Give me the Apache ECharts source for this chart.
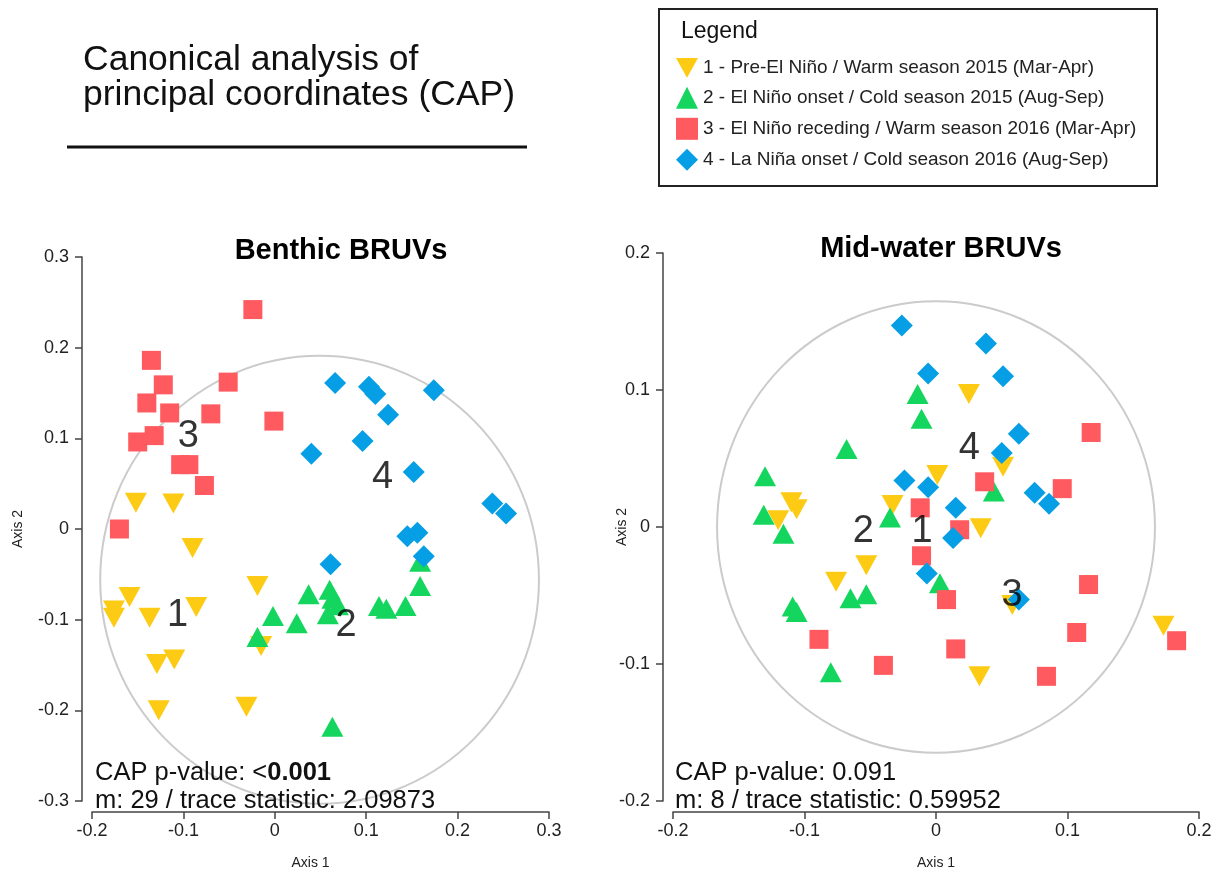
<!DOCTYPE html>
<html>
<head>
<meta charset="utf-8">
<script src="https://cdn.jsdelivr.net/npm/echarts@6/dist/echarts.min.js"></script>
<style>
html, body { margin: 0; padding: 0; background: #fff; }
#chart { width: 1220px; height: 875px; }
</style>
</head>
<body>
<div id="chart"></div>
<script>
// Group names (legend order)
const groupNames = [
  '1 - Pre-El Niño / Warm season 2015 (Mar-Apr)',
  '2 - El Niño onset / Cold season 2015 (Aug-Sep)',
  '3 - El Niño receding / Warm season 2016 (Mar-Apr)',
  '4 - La Niña onset / Cold season 2016 (Aug-Sep)'
];
const groupColors = ['#FDCA14', '#14D65F', '#FF5A5F', '#069FE6'];

// Benthic BRUVs: CAP scores [Axis 1, Axis 2]
const benthicPreNino = [
  [-0.152, 0.029], [-0.111, 0.028], [-0.090, -0.021], [-0.019, -0.063], [-0.159, -0.075],
  [-0.176, -0.090], [-0.176, -0.098], [-0.137, -0.098], [-0.086, -0.086], [-0.015, -0.129],
  [-0.129, -0.149], [-0.110, -0.144], [-0.127, -0.200], [-0.031, -0.196]
];
const benthicNinoOnset = [
  [-0.019, -0.119], [-0.002, -0.096], [0.024, -0.104], [0.037, -0.072], [0.060, -0.067],
  [0.063, -0.077], [0.069, -0.084], [0.058, -0.094], [0.114, -0.085], [0.122, -0.088],
  [0.143, -0.085], [0.159, -0.063], [0.159, -0.036], [0.063, -0.218]
];
const benthicNinoReceding = [
  [-0.024, 0.242], [-0.135, 0.186], [-0.122, 0.159], [-0.051, 0.162], [-0.140, 0.139],
  [-0.115, 0.128], [-0.070, 0.127], [-0.001, 0.119], [-0.132, 0.103], [-0.150, 0.096],
  [-0.103, 0.071], [-0.094, 0.071], [-0.077, 0.048], [-0.170, 0.000]
];
const benthicNinaOnset = [
  [0.066, 0.161], [0.103, 0.157], [0.110, 0.149], [0.174, 0.153], [0.124, 0.126],
  [0.096, 0.097], [0.040, 0.083], [0.152, 0.063], [0.238, 0.028], [0.253, 0.017],
  [0.145, -0.008], [0.156, -0.004], [0.163, -0.030], [0.061, -0.039]
];
// group label positions [Axis 1, Axis 2, label]
const benthicGroupLabels = [
  [-0.1065, -0.095, '1'], [0.078, -0.107, '2'], [-0.0945, 0.1025, '3'], [0.118, 0.057, '4']
];
// correlation ring [centre x, centre y, radius x, radius y]
const benthicRing = [0.049, -0.056, 0.240, 0.247];

// Mid-water BRUVs: CAP scores [Axis 1, Axis 2]
const midPreNino = [
  [-0.110, 0.018], [-0.106, 0.013], [-0.120, 0.005], [-0.033, 0.016], [0.025, 0.097],
  [0.051, 0.044], [0.001, 0.038], [0.034, -0.001], [0.058, -0.057], [0.173, -0.072],
  [0.033, -0.109], [-0.053, -0.028], [-0.076, -0.040]
];
const midNinoOnset = [
  [-0.130, 0.037], [-0.068, 0.057], [-0.131, 0.009], [-0.116, -0.005], [-0.035, 0.007],
  [-0.014, 0.097], [-0.011, 0.079], [0.044, 0.026], [0.003, -0.041], [-0.065, -0.052],
  [-0.053, -0.049], [-0.109, -0.058], [-0.106, -0.062], [-0.080, -0.106]
];
const midNinoReceding = [
  [0.118, 0.069], [0.037, 0.033], [0.096, 0.028], [-0.012, 0.014], [0.018, -0.002],
  [-0.011, -0.021], [0.008, -0.053], [0.116, -0.042], [0.107, -0.077], [0.183, -0.083],
  [0.015, -0.089], [0.084, -0.109], [-0.089, -0.082], [-0.040, -0.101]
];
const midNinaOnset = [
  [-0.026, 0.147], [0.038, 0.134], [-0.006, 0.112], [0.051, 0.110], [0.063, 0.068],
  [0.050, 0.054], [-0.024, 0.034], [-0.006, 0.029], [0.075, 0.025], [0.086, 0.017],
  [0.015, 0.014], [0.013, -0.008], [-0.007, -0.034], [0.063, -0.053]
];
const midGroupLabels = [
  [-0.0106, -0.003, '1'], [-0.0553, -0.003, '2'], [0.0578, -0.0498, '3'], [0.0253, 0.057, '4']
];
const midRing = [0.0, 0.0, 0.1665, 0.1648];

// Axis ranges and tick step
const benthicX = [-0.2, 0.3];
const benthicY = [-0.3, 0.3];
const midX = [-0.2, 0.2];
const midY = [-0.2, 0.2];
const tickStep = 0.1;

// CAP statistics
const benthicStats = { p: '0.001', pPrefix: '<', pBold: true, m: 29, trace: '2.09873' };
const midStats = { p: '0.091', pPrefix: '', pBold: false, m: 8, trace: '0.59952' };

const FONT = "'Liberation Sans', Arial, Helvetica, sans-serif";

// marker shape per group (downward triangle drawn as a path)
const downTriangle = 'path://M0,0 L2,0 L1,1.8 Z';
const groupSymbols = [
  { symbol: downTriangle, symbolSize: [22, 20] },
  { symbol: 'triangle', symbolSize: [22, 20] },
  { symbol: 'rect', symbolSize: [19, 19] },
  { symbol: 'diamond', symbolSize: [22, 22] }
];
const legendIcons = [downTriangle, 'triangle', 'rect', 'diamond'];

function makeAxisX(range, gridIndex, namePad) {
  return {
    type: 'value', gridIndex, min: range[0], max: range[1], interval: tickStep,
    offset: 11,
    name: 'Axis 1', nameLocation: 'middle', nameGap: 44, nameMoveOverlap: false,
    nameTextStyle: { fontSize: 14, color: '#222', fontFamily: FONT, padding: namePad },
    axisLine: { show: true, onZero: false, lineStyle: { color: '#444', width: 1.5 } },
    axisTick: { show: true, length: 7, lineStyle: { color: '#444', width: 1.5 } },
    axisLabel: { fontSize: 18, color: '#222', fontFamily: FONT, margin: 10 },
    splitLine: { show: false }
  };
}
function makeAxisY(range, gridIndex, nameGap) {
  return {
    type: 'value', gridIndex, min: range[0], max: range[1], interval: tickStep,
    offset: 10,
    name: 'Axis 2', nameLocation: 'middle', nameGap: nameGap, nameMoveOverlap: false,
    nameTextStyle: { fontSize: 14, color: '#222', fontFamily: FONT },
    axisLine: { show: true, onZero: false, lineStyle: { color: '#444', width: 1.5 } },
    axisTick: { show: true, length: 7, lineStyle: { color: '#444', width: 1.5 } },
    axisLabel: { fontSize: 18, color: '#222', fontFamily: FONT, margin: 13 },
    splitLine: { show: false }
  };
}

function ringSeries(ring, idx) {
  return {
    type: 'custom', xAxisIndex: idx, yAxisIndex: idx, silent: true, z: 1,
    data: [ring],
    renderItem: function (params, api) {
      const c = api.coord([api.value(0), api.value(1)]);
      const s = api.size([api.value(2), api.value(3)]);
      return {
        type: 'ellipse',
        shape: { cx: c[0], cy: c[1], rx: s[0], ry: s[1] },
        style: { fill: 'none', stroke: '#cbcbcb', lineWidth: 2 }
      };
    }
  };
}

function groupSeries(datasets, idx) {
  return datasets.map((d, i) => ({
    type: 'scatter', name: groupNames[i], xAxisIndex: idx, yAxisIndex: idx,
    data: d, z: 2 + i,
    symbol: groupSymbols[i].symbol,
    symbolSize: groupSymbols[i].symbolSize,
    itemStyle: { color: groupColors[i], opacity: 1 },
    emphasis: { disabled: true }
  }));
}

function labelSeries(labels, idx) {
  return {
    type: 'scatter', name: 'group-labels-' + idx, xAxisIndex: idx, yAxisIndex: idx,
    data: labels, z: 10, symbolSize: 1,
    itemStyle: { color: 'rgba(0,0,0,0)' },
    label: {
      show: true, position: 'inside',
      formatter: p => p.data[2],
      fontSize: 38, color: '#000', fontFamily: FONT
    },
    silent: true
  };
}

function statsTitle(stats, left) {
  const pText = stats.pBold
    ? '{n|CAP p-value: ' + stats.pPrefix + '}{b|' + stats.p + '}'
    : '{n|CAP p-value: ' + stats.pPrefix + stats.p + '}';
  return {
    text: pText + '\n{n|m: ' + stats.m + ' / trace statistic: ' + stats.trace + '}',
    left: left, top: 759, padding: 0,
    textStyle: {
      fontFamily: FONT, fontWeight: 'normal',
      rich: {
        n: { fontSize: 25.5, color: '#111', fontFamily: FONT, fontWeight: 'normal', lineHeight: 28 },
        b: { fontSize: 25.5, color: '#111', fontFamily: FONT, fontWeight: 'bold', lineHeight: 28 }
      }
    }
  };
}

const chart = echarts.init(document.getElementById('chart'), null, { renderer: 'canvas' });

const option = {
  backgroundColor: '#fff',
  animation: false,
  textStyle: { fontFamily: FONT },
  title: [
    statsTitle(benthicStats, 95),
    statsTitle(midStats, 675)
  ],
  grid: [
    { left: 92, top: 257, width: 457, height: 550, containLabel: false },
    { left: 673, top: 253, width: 526, height: 551, containLabel: false }
  ],
  xAxis: [makeAxisX(benthicX, 0, [0, 20, 0, 0]), makeAxisX(midX, 1, [0, 0, 0, 0])],
  yAxis: [makeAxisY(benthicY, 0, 57), makeAxisY(midY, 1, 34)],
  legend: {
    data: groupNames.map((n, i) => ({ name: n, icon: legendIcons[i] })),
    orient: 'vertical',
    left: 676, top: 58,
    itemWidth: 22, itemHeight: 22, itemGap: 9,
    padding: 0,
    selectedMode: false,
    textStyle: { fontSize: 19, color: '#222', fontFamily: FONT }
  },
  graphic: [
    { type: 'text', left: 83, top: 42, z: 100,
      style: { text: 'Canonical analysis of', fontSize: 35.5, fill: '#111', fontFamily: FONT } },
    { type: 'text', left: 83, top: 77, z: 100,
      style: { text: 'principal coordinates (CAP)', fontSize: 35.5, fill: '#111', fontFamily: FONT } },
    { type: 'line', z: 100,
      shape: { x1: 67, y1: 147, x2: 527, y2: 147 },
      style: { stroke: '#111', lineWidth: 3 } },
    { type: 'rect', z: 100,
      shape: { x: 659, y: 9, width: 498, height: 177 },
      style: { fill: 'none', stroke: '#222', lineWidth: 2 } },
    { type: 'text', left: 681, top: 20, z: 100,
      style: { text: 'Legend', fontSize: 23, fill: '#111', fontFamily: FONT } },
    { type: 'text', z: 100, x: 341, y: 251,
      style: { text: 'Benthic BRUVs', fontSize: 29, fontWeight: 'bold', fill: '#000',
               fontFamily: FONT, align: 'center', verticalAlign: 'middle' } },
    { type: 'text', z: 100, x: 941, y: 249,
      style: { text: 'Mid-water BRUVs', fontSize: 29, fontWeight: 'bold', fill: '#000',
               fontFamily: FONT, align: 'center', verticalAlign: 'middle' } }
  ],
  series: [
    ringSeries(benthicRing, 0),
    ...groupSeries([benthicPreNino, benthicNinoOnset, benthicNinoReceding, benthicNinaOnset], 0),
    labelSeries(benthicGroupLabels, 0),
    ringSeries(midRing, 1),
    ...groupSeries([midPreNino, midNinoOnset, midNinoReceding, midNinaOnset], 1),
    labelSeries(midGroupLabels, 1)
  ]
};

chart.setOption(option);
</script>
</body>
</html>
